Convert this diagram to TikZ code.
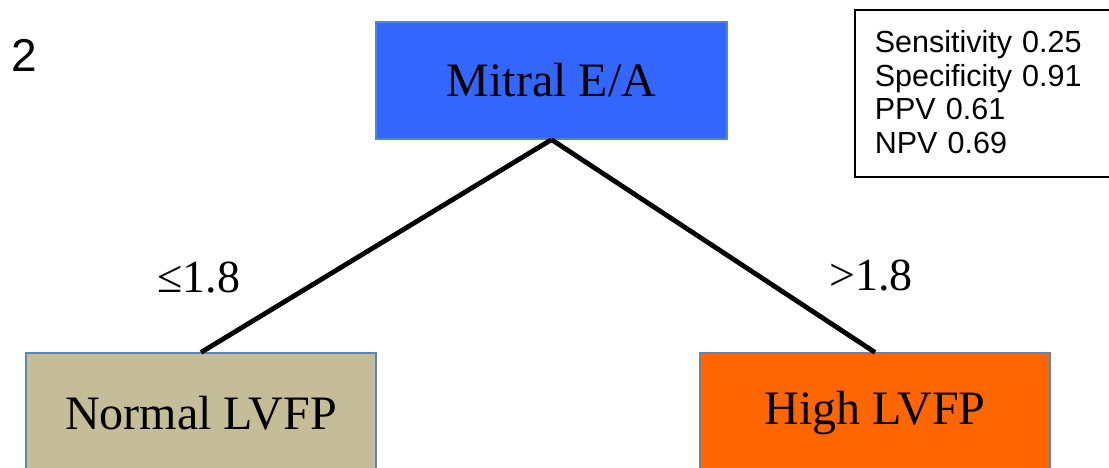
\documentclass[tikz,border=0pt]{standalone}
\usepackage{fontspec}
\setmainfont{Liberation Serif}
\newfontfamily\statsfont{Liberation Sans}
\definecolor{mitralblue}{HTML}{3366FF}
\definecolor{normalfill}{HTML}{C4BD97}
\definecolor{highfill}{HTML}{FF6600}
\definecolor{boxedge}{HTML}{5A86C0}
\tikzset{
  leafbox/.style={draw=boxedge, line width=1.2pt, inner sep=0pt, minimum width=350pt,
    font=\fontsize{48}{56}\selectfont},
  branch/.style={line width=4.8pt, black},
  cutlabel/.style={inner sep=0pt, font=\fontsize{46}{54}\selectfont},
}
\begin{document}
\begin{tikzpicture}[x=1pt, y=-1pt]
\useasboundingbox (0,0) rectangle (1109,468);
\node[inner sep=0pt, font=\statsfont\fontsize{46}{50}\selectfont] (num) at (24,55) {2};
\node[leafbox, fill=mitralblue, minimum width=351pt, minimum height=117pt] (mitral) at (551.5,80.5) {Mitral E/A};
\node[leafbox, fill=normalfill, minimum height=120pt] (normal) at (201,413) {Normal LVFP};
\node[leafbox, fill=highfill, minimum height=120pt] (high) at (875,413) {High LVFP};
\node[draw=black, line width=1.6pt, anchor=north west, minimum width=258pt, minimum height=167pt,
      inner xsep=20pt, inner ysep=0pt, align=left, text width=220pt,
      font=\statsfont\fontsize{30.5}{33.5}\selectfont] (stats) at (854,9)
  {\raisebox{3pt}{Sensitivity 0.25}\\\raisebox{3pt}{Specificity 0.91}\\\raisebox{3pt}{PPV 0.61}\\\raisebox{3pt}{NPV 0.69}};
\draw[branch] (mitral.south) -- (normal.north);
\draw[branch] (mitral.south) -- (high.north);
\node[cutlabel] (le) at (199,278) {≤1.8};
\node[cutlabel] (gt) at (871,276) {>1.8};
\end{tikzpicture}
\end{document}
